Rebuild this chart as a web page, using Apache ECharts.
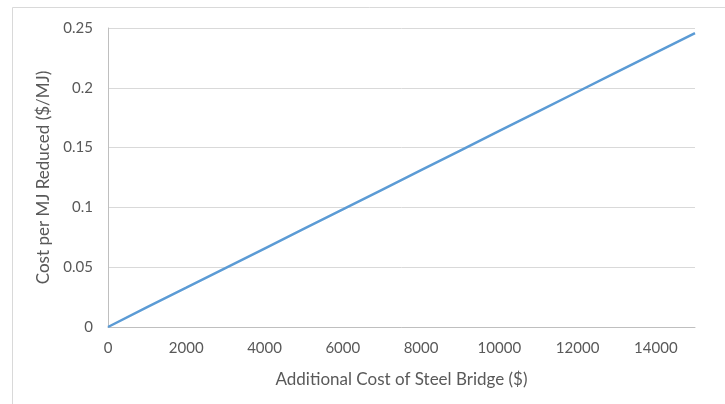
<!DOCTYPE html>
<html>
<head>
<meta charset="utf-8">
<script src="https://cdn.jsdelivr.net/npm/echarts@6/dist/echarts.min.js"></script>
<style>
  html, body { margin: 0; padding: 0; background: #fff; }
  #chart { width: 725px; height: 404px; }
</style>
</head>
<body>
<div id="chart"></div>
<script>
// additional cost of steel bridge ($)
var costX = [0, 1000, 2000, 3000, 4000, 5000, 6000, 7000, 8000, 9000, 10000, 11000, 12000, 13000, 14000, 15000];
// cost per MJ reduced ($/MJ)
var costPerMJ = [0, 0.0167, 0.0329, 0.0492, 0.0656, 0.0820, 0.0983, 0.1147, 0.1311, 0.1475, 0.1639, 0.1803, 0.1967, 0.2131, 0.2295, 0.2458];

var points = [];
for (var i = 0; i < costX.length; i++) {
    points.push([costX[i], costPerMJ[i]]);
}

var txtColor = '#595959';
var font = 'Lato, "Open Sans", sans-serif';

var myChart = echarts.init(document.getElementById('chart'));
var option = {
    animation: false,
    backgroundColor: '#fff',
    graphic: [{
        type: 'rect',
        shape: { x: 12.5, y: 7.5, width: 730, height: 420 },
        style: { fill: 'none', stroke: '#d9d9d9', lineWidth: 1 },
        silent: true
    }],
    grid: {
        left: 108,
        right: 30,
        top: 28,
        bottom: 77
    },
    xAxis: {
        type: 'value',
        min: 0,
        max: 15000,
        interval: 2000,
        name: 'Additional Cost of Steel Bridge ($)',
        nameLocation: 'middle',
        nameGap: 44,
        nameTextStyle: { color: txtColor, fontSize: 17, fontFamily: font },
        axisLine: { show: true, lineStyle: { color: '#bfbfbf', width: 1 } },
        axisTick: { show: false },
        axisLabel: {
            color: txtColor, fontSize: 15, fontFamily: font, margin: 14,
            showMaxLabel: false,
            formatter: function (v) { return String(v); }
        },
        splitLine: { show: false }
    },
    yAxis: {
        type: 'value',
        min: 0,
        max: 0.25,
        interval: 0.05,
        name: 'Cost per MJ Reduced ($/MJ)',
        nameLocation: 'middle',
        nameGap: 50,
        nameTextStyle: { color: txtColor, fontSize: 17, fontFamily: font },
        axisLine: { show: true, lineStyle: { color: '#bfbfbf', width: 1 } },
        axisTick: { show: false },
        axisLabel: {
            color: txtColor, fontSize: 15, fontFamily: font, margin: 15,
            formatter: function (v) { return String(Math.round(v * 100) / 100); }
        },
        splitLine: { show: true, lineStyle: { color: '#d9d9d9', width: 1 } }
    },
    series: [{
        type: 'line',
        data: points,
        showSymbol: false,
        lineStyle: { color: '#5b9bd5', width: 2.5 },
        itemStyle: { color: '#5b9bd5' }
    }]
};
myChart.setOption(option);
</script>
</body>
</html>
